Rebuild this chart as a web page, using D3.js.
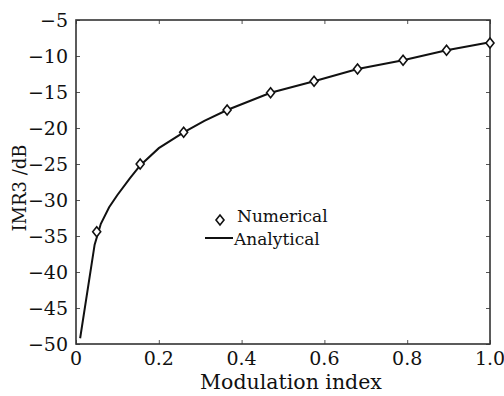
<!DOCTYPE html>
<html lang="en">
<head>
    <meta charset="UTF-8">
    <title>IMR3 vs modulation index</title>
    <style>
        body { margin: 0; background: #fff; }
        text { font-family: "DejaVu Serif", serif; fill: #111; }
    </style>
    <script src="https://d3js.org/d3.v7.min.js"></script>
</head>
<body>
    <svg width="504" height="396"></svg>
    <script>
        // numerical results (diamonds)
        const numX = [0.05, 0.155, 0.26, 0.365, 0.47, 0.575, 0.68, 0.79, 0.895, 1.0];
        const numY = [-34.4, -25.0, -20.6, -17.5, -15.1, -13.5, -11.8, -10.6, -9.2, -8.2];
        // analytical curve
        const anaX = [0.01, 0.045, 0.06, 0.08, 0.1, 0.13, 0.155, 0.2, 0.26, 0.31, 0.365, 0.47, 0.575, 0.68, 0.79, 0.895, 1.0];
        const anaY = [-49.2, -36.2, -33.3, -31.0, -29.3, -27.0, -25.2, -22.8, -20.6, -19.0, -17.5, -15.1, -13.5, -11.8, -10.6, -9.2, -8.1];
        const xTicks = [0, 0.2, 0.4, 0.6, 0.8, 1.0];
        const yTicks = [-5, -10, -15, -20, -25, -30, -35, -40, -45, -50];

        const svg = d3.select("svg");
        const pL = 76, pR = 490, pT = 20, pB = 344;

        const x = d3.scaleLinear().domain([0, 1]).range([pL, pR]);
        const y = d3.scaleLinear().domain([-50, -5]).range([pB, pT]);
        const fmtY = d => "\u2212" + Math.abs(d);
        const fmtX = d => d === 0 ? "0" : d3.format(".1f")(d);

        // tick marks pointing inward, mirrored on all sides
        const tk = 4;
        svg.append("g").attr("transform", `translate(0,${pB})`)
            .call(d3.axisTop(x).tickValues(xTicks).tickSize(tk).tickFormat(""));
        svg.append("g").attr("transform", `translate(0,${pT})`)
            .call(d3.axisBottom(x).tickValues(xTicks).tickSize(tk).tickFormat(""));
        svg.append("g").attr("transform", `translate(${pL},0)`)
            .call(d3.axisRight(y).tickValues(yTicks).tickSize(tk).tickFormat(""));
        svg.append("g").attr("transform", `translate(${pR},0)`)
            .call(d3.axisLeft(y).tickValues(yTicks).tickSize(tk).tickFormat(""));
        svg.selectAll(".domain").remove();
        svg.selectAll(".tick line").attr("stroke", "#555").attr("stroke-width", 1);

        // tick labels
        svg.selectAll(".xlab").data(xTicks).enter().append("text")
            .attr("x", d => x(d)).attr("y", pB + 21)
            .attr("text-anchor", "middle").attr("font-size", 19)
            .text(fmtX);
        svg.selectAll(".ylab").data(yTicks).enter().append("text")
            .attr("x", pL - 8).attr("y", d => y(d)).attr("dy", "0.35em")
            .attr("text-anchor", "end").attr("font-size", 19)
            .text(fmtY);

        // frame
        svg.append("rect")
            .attr("x", pL).attr("y", pT)
            .attr("width", pR - pL).attr("height", pB - pT)
            .attr("fill", "none").attr("stroke", "#333").attr("stroke-width", 1.6);

        // axis titles
        svg.append("text")
            .attr("x", 291).attr("y", 389)
            .attr("text-anchor", "middle").attr("font-size", 20.5)
            .text("Modulation index");
        svg.append("text")
            .attr("transform", "translate(26,188) rotate(-90)")
            .attr("text-anchor", "middle").attr("font-size", 18)
            .text("IMR3 /dB");

        // analytical line
        const line = d3.line().x(d => x(d[0])).y(d => y(d[1]));
        svg.append("path")
            .datum(anaX.map((v, i) => [v, anaY[i]]))
            .attr("d", line)
            .attr("fill", "none").attr("stroke", "#111").attr("stroke-width", 2);

        // numerical markers
        const diamond = "M0,-5L4,0L0,5L-4,0Z";
        svg.selectAll(".num").data(numX.map((v, i) => [v, numY[i]])).enter()
            .append("path")
            .attr("d", diamond)
            .attr("transform", d => `translate(${x(d[0])},${y(d[1])})`)
            .attr("fill", "#fff").attr("stroke", "#111").attr("stroke-width", 1.6);

        // legend
        const lg = svg.append("g");
        lg.append("path").attr("d", diamond)
            .attr("transform", "translate(220,220)")
            .attr("fill", "#fff").attr("stroke", "#111").attr("stroke-width", 1.6);
        lg.append("text").attr("x", 237).attr("y", 222).attr("font-size", 17).text("Numerical");
        lg.append("line").attr("x1", 205).attr("x2", 233).attr("y1", 238).attr("y2", 238)
            .attr("stroke", "#111").attr("stroke-width", 2);
        lg.append("text").attr("x", 234).attr("y", 245).attr("font-size", 17).text("Analytical");
    </script>
</body>
</html>
